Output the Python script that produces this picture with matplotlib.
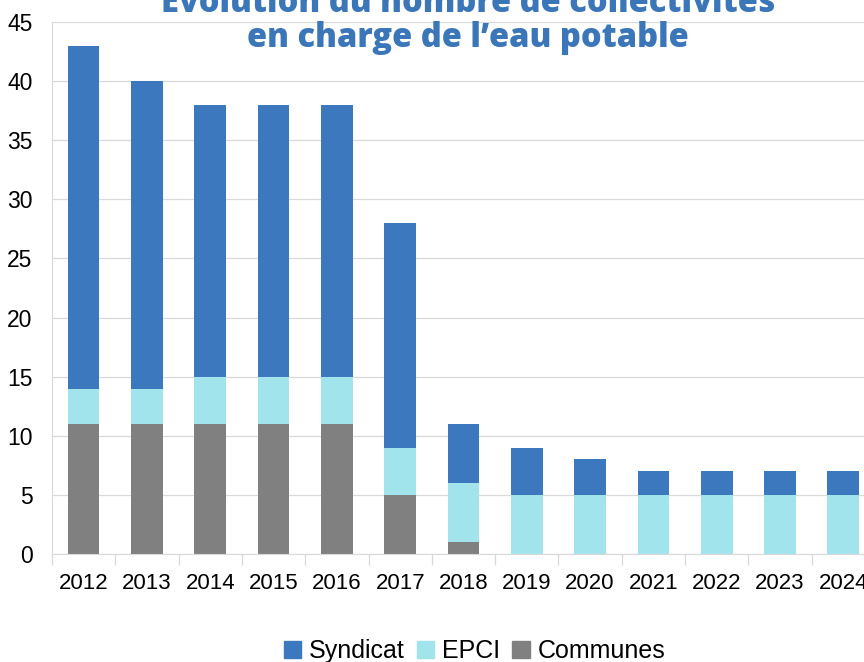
import matplotlib
matplotlib.use("Agg")
from matplotlib import pyplot as plt
from matplotlib.patches import Patch
import numpy as np

years = ['2012', '2013', '2014', '2015', '2016', '2017', '2018',
         '2019', '2020', '2021', '2022', '2023', '2024']
communes = [11, 11, 11, 11, 11, 5, 1, 0, 0, 0, 0, 0, 0]
epci = [3, 3, 4, 4, 4, 4, 5, 5, 5, 5, 5, 5, 5]
syndicat = [29, 26, 23, 23, 23, 19, 5, 4, 3, 2, 2, 2, 2]

col_syndicat = '#3b78bd'
col_epci = '#a1e4ec'
col_communes = '#808080'

plt.rcParams['font.family'] = ['Liberation Sans', 'DejaVu Sans']

fig = plt.figure(figsize=(8.64, 6.62), dpi=100)
# plot area runs past the right edge like in the original export
ax = fig.add_axes([0.0602, 0.1631, 0.9525, 0.8037])

x = np.arange(len(years))
communes = np.array(communes)
epci = np.array(epci)
syndicat = np.array(syndicat)

ax.bar(x, communes, width=0.5, color=col_communes, zorder=2)
ax.bar(x, epci, width=0.5, bottom=communes, color=col_epci, zorder=2)
ax.bar(x, syndicat, width=0.5, bottom=communes + epci, color=col_syndicat, zorder=2)

ax.set_xlim(-0.5, len(years) - 0.5)
ax.set_ylim(0, 45)
ax.set_yticks(range(0, 46, 5))
ax.yaxis.grid(True, color='#d9d9d9', linewidth=0.9, zorder=0)
ax.tick_params(axis='y', length=0, labelsize=16.5, pad=14)

ax.set_xticks(x)
ax.set_xticklabels(years)
ax.set_xticks(np.arange(-0.5, len(years), 1), minor=True)
ax.tick_params(axis='x', which='major', length=0, labelsize=16, pad=14)
ax.tick_params(axis='x', which='minor', length=8, color='#d9d9d9', width=0.9)

for side in ['top', 'right']:
    ax.spines[side].set_visible(False)
ax.spines['left'].set_color('#d9d9d9')
ax.spines['bottom'].set_color('#d9d9d9')

fig.text(0.542, 0.996, 'Évolution du nombre de collectivités', ha='center', va='center',
         fontsize=23.5, fontweight='heavy', color='#3a76b8', family='Open Sans')
fig.text(0.542, 0.942, 'en charge de l\u2019eau potable', ha='center', va='center',
         fontsize=23.5, fontweight='heavy', color='#3a76b8', family='Open Sans')

handles = [Patch(color=col_syndicat, label='Syndicat'),
           Patch(color=col_epci, label='EPCI'),
           Patch(color=col_communes, label='Communes')]
fig.legend(handles=handles, loc='center', bbox_to_anchor=(0.549, 0.016), ncol=3,
           frameon=False, fontsize=18, handlelength=0.7, handleheight=0.7,
           handletextpad=0.3, columnspacing=0.5)

fig.savefig('out.png', dpi=100)
